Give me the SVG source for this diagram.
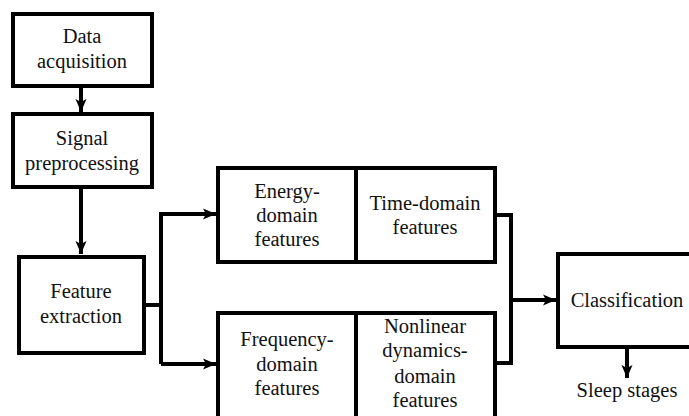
<svg xmlns="http://www.w3.org/2000/svg" width="689" height="416" viewBox="0 0 689 416">
<style>
.box{fill:#fff;stroke:#000;stroke-width:4}
.t{font-family:'Liberation Serif','Times New Roman','DejaVu Serif',serif;font-size:20.5px;fill:#111;text-anchor:middle}
.c{fill:none;stroke:#000;stroke-width:4}
</style>
<defs>
<marker id="ah" markerUnits="userSpaceOnUse" markerWidth="14" markerHeight="14" viewBox="0 0 14 14" refX="13" refY="7" orient="auto">
<path d="M0,1.5 L13,7 L0,12.5 L3,7 Z" fill="#000"/>
</marker>
</defs>
<rect width="689" height="416" fill="#fff"/>
<g id="connectors">
<line class="c" x1="81" y1="87" x2="81" y2="112" marker-end="url(#ah)"/>
<line class="c" x1="81" y1="189" x2="81" y2="254" marker-end="url(#ah)"/>
<polyline class="c" points="144,305 161,305"/>
<polyline class="c" points="161,364 161,214 216,214" marker-end="url(#ah)"/>
<line class="c" x1="161" y1="364" x2="216" y2="364" marker-end="url(#ah)"/>
<polyline class="c" points="495,215 511,215 511,363 495,363"/>
<line class="c" x1="511" y1="300" x2="556" y2="300" marker-end="url(#ah)"/>
<line class="c" x1="627" y1="347" x2="627" y2="378" marker-end="url(#ah)"/>
</g>
<g id="data">
<rect class="box" x="13" y="14" width="139" height="72"/>
<text class="t" x="82" y="43" font-family="Liberation Serif, serif">Data</text>
<text class="t" x="82" y="68">acquisition</text>
</g>
<g id="signal">
<rect class="box" x="13" y="114" width="139" height="73"/>
<text class="t" x="82" y="145">Signal</text>
<text class="t" x="82" y="170">preprocessing</text>
</g>
<g id="feature">
<rect class="box" x="19" y="257" width="125" height="96"/>
<text class="t" x="81" y="298">Feature</text>
<text class="t" x="81" y="323">extraction</text>
</g>
<g id="energy">
<rect class="box" x="218" y="168" width="138" height="94"/>
<text class="t" x="287" y="198">Energy-</text>
<text class="t" x="287" y="222">domain</text>
<text class="t" x="287" y="246">features</text>
</g>
<g id="time">
<rect class="box" x="356" y="168" width="139" height="94"/>
<text class="t" x="425" y="210">Time-domain</text>
<text class="t" x="425" y="234">features</text>
</g>
<g id="frequency">
<rect class="box" x="218" y="313" width="138" height="106"/>
<text class="t" x="287" y="346">Frequency-</text>
<text class="t" x="287" y="371">domain</text>
<text class="t" x="287" y="395">features</text>
</g>
<g id="nonlinear">
<rect class="box" x="356" y="313" width="139" height="106"/>
<text class="t" x="425" y="333">Nonlinear</text>
<text class="t" x="425" y="357">dynamics-</text>
<text class="t" x="425" y="383">domain</text>
<text class="t" x="425" y="407">features</text>
</g>
<g id="classification">
<rect class="box" x="558" y="254" width="140" height="93"/>
<text class="t" x="627" y="307">Classification</text>
</g>
<g id="sleep">
<text class="t" x="627" y="397">Sleep stages</text>
</g>
</svg>
